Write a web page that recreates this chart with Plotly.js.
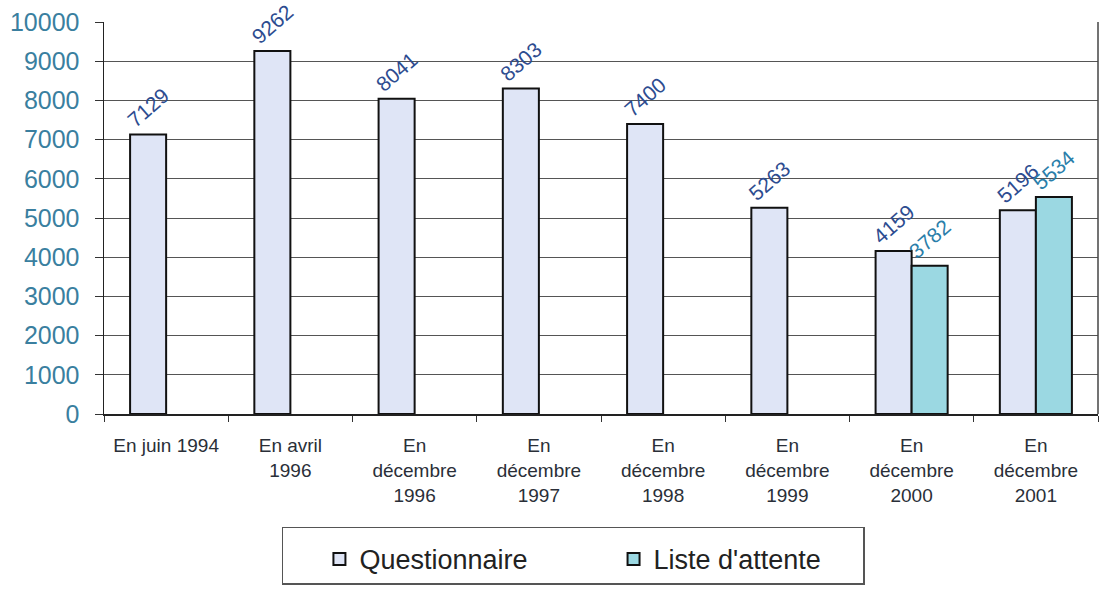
<!DOCTYPE html>
<html><head><meta charset="utf-8">
<script src="https://cdn.plot.ly/plotly-3.0.1.min.js"></script>
<style>body{margin:0;background:#fff}#c{width:1102px;height:591px}</style>
</head><body><div id="c"></div>
<script>
const categories = ["En juin 1994","En avril<br>1996","En<br>décembre<br>1996","En<br>décembre<br>1997","En<br>décembre<br>1998","En<br>décembre<br>1999","En<br>décembre<br>2000","En<br>décembre<br>2001"];
const questionnaire = [7129, 9262, 8041, 8303, 7400, 5263, 4159, 5196];
const listeAttente = [null, null, null, null, null, null, 3782, 5534];
const yTicks = [0,1000,2000,3000,4000,5000,6000,7000,8000,9000,10000];
const seriesNames = ["Questionnaire", "Liste d'attente"];

const NB = '\u00a0';
const traces = [
  {type:'bar', name:seriesNames[0] + NB.repeat(6), x:categories, y:questionnaire,
   marker:{color:'#dfe5f6', line:{color:'#111', width:2}},
   text:questionnaire.map(String), textposition:'outside', textangle:-41,
   cliponaxis:false, constraintext:'none',
   textfont:{family:'Liberation Sans, Arial, sans-serif', size:21, color:'#2d4c90'}},
  {type:'bar', name:seriesNames[1] + NB.repeat(5), x:categories, y:listeAttente,
   marker:{color:'#9bd8e2', line:{color:'#111', width:2}},
   text:listeAttente.map(v=>v==null?'':String(v)), textposition:'outside', textangle:-41,
   cliponaxis:false, constraintext:'none',
   textfont:{family:'Liberation Sans, Arial, sans-serif', size:21, color:'#2a7eaa'}}
];

const layout = {
  width:1102, height:591,
  margin:{l:104, r:4, t:22, b:177},
  paper_bgcolor:'#fff', plot_bgcolor:'#fff',
  barmode:'group', bargap:0.42, bargroupgap:0,
  font:{family:'Liberation Sans, Arial, sans-serif', color:'#222'},
  xaxis:{type:'category', tickson:'boundaries', ticks:'outside', ticklen:6, tickcolor:'#333', automargin:false,
    showline:true, linecolor:'#222', linewidth:1.5, mirror:false, ticklabelstandoff:14,
    tickfont:{size:19, color:'#2a2f38'}, showgrid:false},
  yaxis:{range:[0,10000], tickvals:yTicks, ticktext:yTicks.map(String), ticks:'outside', ticklen:8, automargin:false,
    tickcolor:'#333', showline:true, linecolor:'#222', linewidth:1.5, ticklabelstandoff:10,
    gridcolor:'#555', gridwidth:1,
    tickfont:{size:25, color:'#3a7f9f'}, zeroline:false},
  shapes:[{type:'line', xref:'paper', yref:'paper', x0:1, x1:1, y0:0, y1:1, line:{color:'#444', width:1.5}}],
  showlegend:true,
  legend:{orientation:'h', x:0.179, xanchor:'left', y:-0.288, yanchor:'top',
    bordercolor:'#555', borderwidth:1.5, bgcolor:'#fff', indentation:36,
    font:{size:27, color:'#222'}, itemwidth:30, traceorder:'normal',
    title:{text:NB, side:'top', font:{size:5}}}
};
Plotly.newPlot('c', traces, layout, {displayModeBar:false, staticPlot:true});
</script></body></html>
